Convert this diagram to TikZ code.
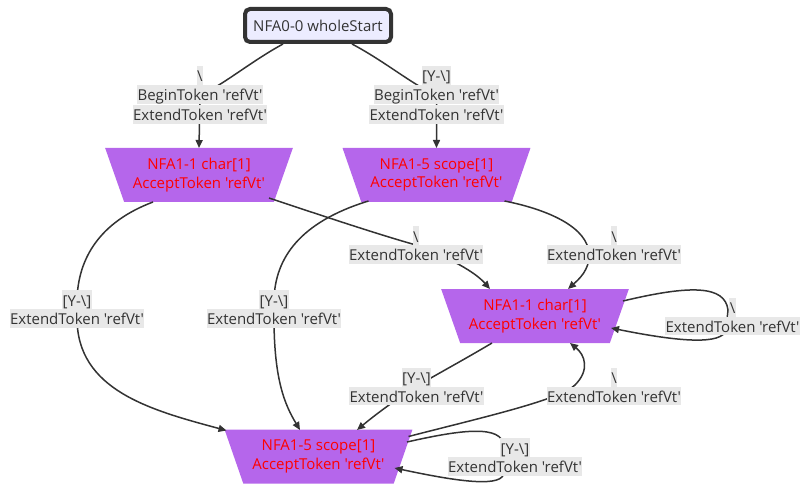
\documentclass[tikz,border=0pt]{standalone}
\usepackage{fontspec}
\setmainfont{Open Sans}[Ligatures=TeXOff]
\usetikzlibrary{arrows.meta,shapes.geometric}
\definecolor{ink}{RGB}{51,51,51}
\definecolor{lblbg}{RGB}{232,232,232}
\definecolor{nodepurple}{RGB}{181,102,235}
\definecolor{startfill}{RGB}{236,236,255}
\setlength{\fboxsep}{0pt}
\newcommand\lbx[1]{\colorbox{lblbg}{\rule[-3pt]{0pt}{18.6pt}\hspace{0.6pt}#1\hspace{0.6pt}}}
\newcommand\bsl{\textbackslash}
\tikzset{
  startbox/.style={draw=ink, line width=4pt, fill=startfill, rounded corners=5pt,
    minimum width=146pt, minimum height=33pt, inner sep=0pt, text=ink,
    font=\fontsize{15}{18.5}\selectfont},
  trap/.style={trapezium, trapezium stretches=true, shape border rotate=180,
    minimum width=188pt, minimum height=54pt, trapezium angle=63.4,
    fill=nodepurple, text=red, inner sep=0pt, align=center,
    font=\fontsize{15}{18.5}\selectfont},
  lbl/.style={inner sep=0pt, align=center, text=ink, font=\fontsize{15}{18.6}\selectfont},
  edge/.style={draw=ink, line width=1.5pt, -{Triangle[length=8pt,width=7pt]}}
}
\begin{document}
\begin{tikzpicture}[x=1pt,y=-1pt]
\useasboundingbox (0,0) rectangle (809,492);
% nodes
\node[startbox] (S) at (318,25.5) {NFA0-0 wholeStart};
\node[trap] (A) at (199,175) {NFA1-1 char[1]\\AcceptToken 'refVt'};
\node[trap] (B) at (436.5,175) {NFA1-5 scope[1]\\AcceptToken 'refVt'};
\node[trap] (C) at (535,316) {NFA1-1 char[1]\\AcceptToken 'refVt'};
\node[trap] (D) at (318.5,456.5) {NFA1-5 scope[1]\\AcceptToken 'refVt'};
% label positions
\coordinate (l1) at (200,95);
\coordinate (l2) at (436.5,95);
\coordinate (l3) at (416,245);
\coordinate (l4) at (614,245);
\coordinate (l5) at (77,309);
\coordinate (l6) at (274,309);
\coordinate (l7) at (732.5,316.5);
\coordinate (l8) at (416.5,386.5);
\coordinate (l9) at (614,386.5);
\coordinate (l10) at (515,457);
% edges
\draw[edge] ([shift={(-35,18.5)}]S.center) .. controls (250,62) and (222,86) .. (l1) -- ([shift={(0,-27)}]A.center);
\draw[edge] ([shift={(34,18.5)}]S.center) .. controls (386,62) and (414,86) .. (l2) -- ([shift={(0,-27)}]B.center);
\draw[edge] ([shift={(70,23)}]A.center) .. controls (320,215) and (380,235) .. (l3) .. controls (450,258) and (475,272) .. ([shift={(-45,-27)}]C.center);
\draw[edge] ([shift={(68,26)}]B.center) .. controls (550,210) and (588,228) .. (589,254) .. controls (590,270) and (578,280) .. ([shift={(33,-27)}]C.center);
\draw[edge] ([shift={(-46,27)}]A.center) .. controls (100,222) and (78,258) .. (77,300) -- (77,318) .. controls (77,390) and (150,410) .. ([shift={(-92,-26)}]D.center);
\draw[edge] ([shift={(-68,26)}]B.center) .. controls (300,222) and (275,258) .. (274,300) -- (274,318) .. controls (274,380) and (285,405) .. ([shift={(-18.5,-26.5)}]D.center);
\draw[edge] ([shift={(88,-15)}]C.center) .. controls (690,285) and (725,285) .. (728,310) -- (726,330) .. controls (722,345) and (680,342) .. ([shift={(76,12)}]C.center);
\draw[edge] ([shift={(-43,27)}]C.center) .. controls (460,362) and (430,378) .. (l8) .. controls (395,400) and (375,415) .. ([shift={(38.5,-26.5)}]D.center);
\draw[edge] ([shift={(90,-20)}]D.center) .. controls (480,418) and (560,400) .. (575,385) .. controls (590,370) and (585,355) .. ([shift={(35,27)}]C.center);
\draw[edge] ([shift={(88.5,-14.5)}]D.center) .. controls (460,430) and (502,424) .. (504,446) -- (504,472) .. controls (504,488) and (460,482) .. ([shift={(76,11.5)}]D.center);
% labels
\node[lbl] (L1) at (l1) {\lbx{\bsl}\\\lbx{BeginToken 'refVt'}\\\lbx{ExtendToken 'refVt'}};
\node[lbl] (L2) at (l2) {\lbx{[Y-\bsl]}\\\lbx{BeginToken 'refVt'}\\\lbx{ExtendToken 'refVt'}};
\node[lbl] (L3) at (l3) {\lbx{\bsl}\\\lbx{ExtendToken 'refVt'}};
\node[lbl] (L4) at (l4) {\lbx{\bsl}\\\lbx{ExtendToken 'refVt'}};
\node[lbl] (L5) at (l5) {\lbx{[Y-\bsl]}\\\lbx{ExtendToken 'refVt'}};
\node[lbl] (L6) at (l6) {\lbx{[Y-\bsl]}\\\lbx{ExtendToken 'refVt'}};
\node[lbl] (L7) at (l7) {\lbx{\bsl}\\\lbx{ExtendToken 'refVt'}};
\node[lbl] (L8) at (l8) {\lbx{[Y-\bsl]}\\\lbx{ExtendToken 'refVt'}};
\node[lbl] (L9) at (l9) {\lbx{\bsl}\\\lbx{ExtendToken 'refVt'}};
\node[lbl] (L10) at (l10) {\lbx{[Y-\bsl]}\\\lbx{ExtendToken 'refVt'}};
\end{tikzpicture}
\end{document}
